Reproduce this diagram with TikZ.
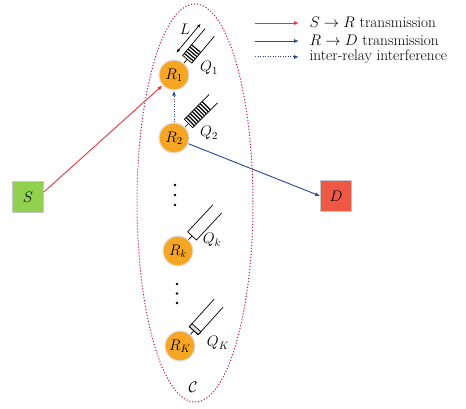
\RequirePackage{fix-cm}
\documentclass[tikz,border=0pt]{standalone}
\usetikzlibrary{arrows.meta}
\definecolor{relayor}{RGB}{246,166,35}
\definecolor{sgreen}{RGB}{146,208,80}
\definecolor{dred}{RGB}{240,88,70}
\definecolor{arrred}{RGB}{226,55,65}
\definecolor{arrblue}{RGB}{40,70,150}
\definecolor{ellcol}{RGB}{195,30,85}
\begin{document}
\begin{tikzpicture}[x=1pt,y=-1pt,
  every node/.style={font=\fontsize{15.3}{18}\selectfont},
  relay/.style={circle,fill=relayor,draw=black!12,line width=1.2pt,minimum size=30pt,inner sep=0pt},
  endbox/.style={rectangle,draw=black!22,line width=0.8pt,minimum size=31pt,inner sep=0pt},
  tip/.style={-{Latex[length=5pt,width=4pt]}},
  sr/.style={tip,draw=arrred,line width=0.9pt},
  rd/.style={tip,draw=arrblue,line width=0.9pt},
  ir/.style={tip,draw=arrblue,line width=1pt,dash pattern=on 1.2pt off 1.3pt},
  qbox/.style={draw=black,line width=0.7pt},
  hatch/.style={draw=black,line width=1.2pt},
  larrow/.style={{Latex[length=4pt,width=3pt]}-{Latex[length=4pt,width=3pt]},draw=black,line width=0.7pt},
  dotmark/.style={circle,fill=black,inner sep=0pt,minimum size=2.6pt},
  ell/.style={draw=ellcol,line width=1pt,dash pattern=on 1.2pt off 1.8pt}]
\useasboundingbox (0,0) rectangle (466,409);

% cluster ellipse
\draw[ell] (195,203) ellipse [x radius=58, y radius=199];

% source and destination
\node[endbox,fill=sgreen] (S) at (28,197) {$S$};
\node[endbox,fill=dred] (D) at (336,196) {$D$};

% relays
\node[relay] (R1) at (174,75) {$R_1$};
\node[relay] (R2) at (174,138) {$R_2$};
\node[relay] (Rk) at (178,251) {$R_k$};
\node[relay] (RK) at (180,346) {$R_K$};

% queue of R1
\begin{scope}[shift={(R1.50)},rotate=50]
  \draw[qbox] (0,0) -- (5,0);
  \draw[qbox] (40,-6) -- (5,-6) -- (5,6) -- (40,6);
  \foreach \t in {7.6,10.4,13.2,16.0,18.8} \draw[hatch] (\t,-6) -- (\t,6);
  \draw[larrow] (3,-12.5) -- (41,-12.5);
\end{scope}
\node (L) at (185,29) {$L$};

% queue of R2
\begin{scope}[shift={(R2.45)},rotate=45]
  \draw[qbox] (0,0) -- (5,0);
  \draw[qbox] (40,-6) -- (5,-6) -- (5,6) -- (40,6);
  \foreach \t in {7.6,10.4,13.2,16.0,18.8,21.6,24.4,27.2,30.0} \draw[hatch] (\t,-6) -- (\t,6);
\end{scope}

% queue of Rk
\begin{scope}[shift={(Rk.47)},rotate=47]
  \draw[qbox] (0,0) -- (5,0);
  \draw[qbox] (42,-6) -- (5,-6) -- (5,6) -- (42,6);
\end{scope}

% queue of RK
\begin{scope}[shift={(RK.48)},rotate=48]
  \draw[qbox] (0,0) -- (5,0);
  \draw[qbox,fill=black!12] (5,-6) rectangle (9,6);
  \draw[qbox] (42,-6) -- (5,-6) -- (5,6) -- (42,6);
\end{scope}

% queue labels
\node (Q1) at (209,68) {$Q_1$};
\node (Q2) at (209,133) {$Q_2$};
\node (Qk) at (212,240) {$Q_k$};
\node (QK) at (218,343) {$Q_K$};
\node (Clab) at (193,387) {$\mathcal{C}$};

% vertical dots
\node[dotmark] (d1) at (175,185) {};
\node[dotmark] (d2) at (175,195) {};
\node[dotmark] (d3) at (175,205) {};
\node[dotmark] (d4) at (177,284) {};
\node[dotmark] (d5) at (177,293.5) {};
\node[dotmark] (d6) at (177,303) {};

% links
\draw[sr] ([yshift=5pt]S.east) -- (R1);
\draw[rd] (R2) -- (D.west);
\draw[ir] (R2) -- (R1);

% legend
\coordinate (l1a) at (255,23); \coordinate (l1b) at (299,23);
\coordinate (l2a) at (255,41); \coordinate (l2b) at (299,41);
\coordinate (l3a) at (255,57); \coordinate (l3b) at (299,57);
\draw[sr] (l1a) -- (l1b);
\draw[rd] (l2a) -- (l2b);
\draw[ir] (l3a) -- (l3b);
\node[anchor=west] (t1) at (306,22.5) {$S\rightarrow R$ transmission};
\node[anchor=west] (t2) at (306,40.5) {$R\rightarrow D$ transmission};
\node[anchor=west] (t3) at (306,57) {inter-relay interference};
\end{tikzpicture}
\end{document}
